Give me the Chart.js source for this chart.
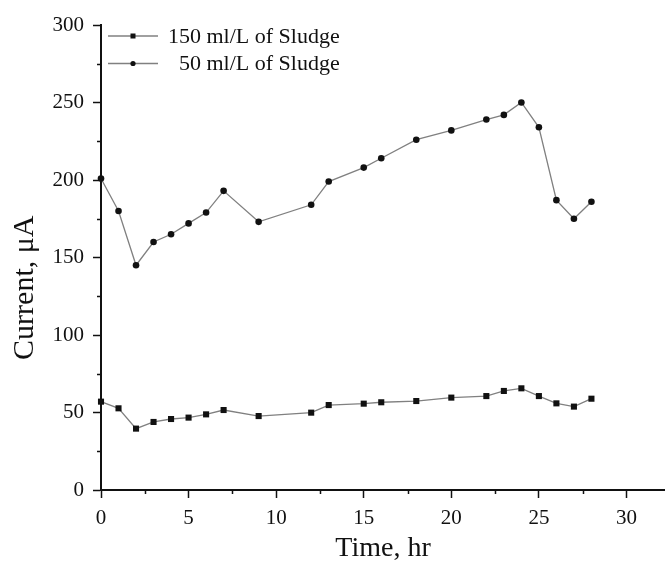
<!DOCTYPE html>
<html>
<head>
<meta charset="utf-8">
<script src="https://cdn.jsdelivr.net/npm/chart.js@4"></script>
<style>
html,body{margin:0;padding:0;background:#fff;}
#wrap{width:665px;height:570px;}
</style>
</head>
<body>
<div id="wrap"><canvas id="c" width="665" height="570"></canvas></div>
<script>
// ---- data ----
const timeHr = [0,1,2,3,4,5,6,7,9,12,13,15,16,18,20,22,23,24,25,26,27,28];
const current150 = [57,52.7,39.6,43.9,45.8,46.7,48.8,51.6,47.7,49.9,54.8,55.7,56.6,57.4,59.6,60.6,63.9,65.6,60.6,55.9,53.8,58.9];
const current50 = [201,180,145,160,165,172,179,193,173,184,199,208,214,226,232,239,242,250,234,187,175,186];
const seriesNames = ['150 ml/L of Sludge', '\u200250 ml/L of Sludge'];
const xTicks = [0,5,10,15,20,25,30];
const xMinorTicks = [2.5,7.5,12.5,17.5,22.5,27.5];
const yTicks = [0,50,100,150,200,250,300];
const yMinorTicks = [25,75,125,175,225,275];
const xTitle = 'Time, hr';
const yTitle = 'Current, \u03bcA';

const FONT = '"Liberation Serif", "Times New Roman", serif';
const INK = '#111';

function pts(xs, ys){ return xs.map((x,i)=>({x:x, y:ys[i]})); }

const minorTicksPlugin = {
  id: 'minorTicks',
  afterDraw(chart){
    const ctx = chart.ctx, xs = chart.scales.x, ys = chart.scales.y;
    ctx.save();
    ctx.strokeStyle = INK; ctx.lineWidth = 1.5;
    ctx.beginPath();
    xMinorTicks.forEach(v=>{ const p = Math.round(xs.getPixelForValue(v))+0.5; ctx.moveTo(p, xs.top); ctx.lineTo(p, xs.top+4); });
    yMinorTicks.forEach(v=>{ const p = Math.round(ys.getPixelForValue(v))+0.5; ctx.moveTo(ys.right, p); ctx.lineTo(ys.right-4, p); });
    ctx.stroke();
    ctx.restore();
  }
};

const yTitlePlugin = {
  id: 'yTitle',
  afterDraw(chart){
    const ctx = chart.ctx, a = chart.chartArea;
    ctx.save();
    ctx.translate(25, a.top + (a.bottom - a.top) * 0.565);
    ctx.rotate(-Math.PI/2);
    ctx.font = '30px ' + FONT;
    ctx.fillStyle = INK;
    ctx.textAlign = 'center'; ctx.textBaseline = 'middle';
    ctx.fillText(yTitle, 0, 0);
    ctx.restore();
  }
};

const legendPlugin = {
  id: 'innerLegend',
  afterDraw(chart){
    const ctx = chart.ctx, a = chart.chartArea;
    ctx.save();
    chart.data.datasets.forEach((ds,i)=>{
      const y = a.top + 11 + i*27.5;
      const x0 = a.left + 7, x1 = a.left + 57, xm = (x0+x1)/2;
      ctx.strokeStyle = ds.borderColor; ctx.lineWidth = 1.3;
      ctx.beginPath(); ctx.moveTo(x0, y); ctx.lineTo(x1, y); ctx.stroke();
      ctx.fillStyle = INK;
      if (ds.pointStyle === 'rect') { ctx.fillRect(xm-2.5, y-2.5, 5, 5); }
      else { ctx.beginPath(); ctx.arc(xm, y, 2.6, 0, Math.PI*2); ctx.fill(); }
      ctx.font = '22px ' + FONT;
      ctx.textBaseline = 'middle'; ctx.textAlign = 'left';
      ctx.fillText(ds.label, x1 + 10, y + 1);
    });
    ctx.restore();
  }
};

new Chart(document.getElementById('c'), {
  type: 'line',
  data: {
    datasets: [
      { label: seriesNames[0], data: pts(timeHr, current150), borderColor: '#808080', borderWidth: 1.3,
        pointStyle: 'rect', pointRadius: 4.3, pointBackgroundColor: INK, pointBorderColor: INK, pointBorderWidth: 0, clip: false, tension: 0 },
      { label: seriesNames[1], data: pts(timeHr, current50), borderColor: '#808080', borderWidth: 1.3,
        pointStyle: 'circle', pointRadius: 3.3, pointBackgroundColor: INK, pointBorderColor: INK, pointBorderWidth: 0, clip: false, tension: 0 }
    ]
  },
  options: {
    responsive: false,
    animation: false,
    devicePixelRatio: 1,
    layout: { autoPadding: false, padding: { top: 25, right: 0, left: 0, bottom: 0 } },
    plugins: { legend: { display: false }, tooltip: { enabled: false } },
    scales: {
      x: {
        type: 'linear', min: 0, max: 32.2,
        afterBuildTicks: s => { s.ticks = xTicks.map(v=>({value:v})); },
        afterFit: s => { s.height = 80; },
        grid: { display: true, drawOnChartArea: false, drawTicks: true, tickLength: 8, tickColor: INK, tickWidth: 1.5 },
        border: { display: true, color: INK, width: 2 },
        ticks: { color: INK, font: { family: FONT, size: 21 }, padding: 8, maxRotation: 0 },
        title: { display: true, text: xTitle, color: INK, font: { family: FONT, size: 28 }, padding: { top: 0, bottom: 5 } }
      },
      y: {
        type: 'linear', min: 0, max: 300,
        afterBuildTicks: s => { s.ticks = yTicks.map(v=>({value:v})); },
        afterFit: s => { s.width = 101; },
        grid: { display: true, drawOnChartArea: false, drawTicks: true, tickLength: 8, tickColor: INK, tickWidth: 1.5 },
        border: { display: true, color: INK, width: 2 },
        ticks: { color: INK, font: { family: FONT, size: 21 }, padding: 9 },
        title: { display: false }
      }
    }
  },
  plugins: [minorTicksPlugin, legendPlugin, yTitlePlugin]
});
</script>
</body>
</html>
